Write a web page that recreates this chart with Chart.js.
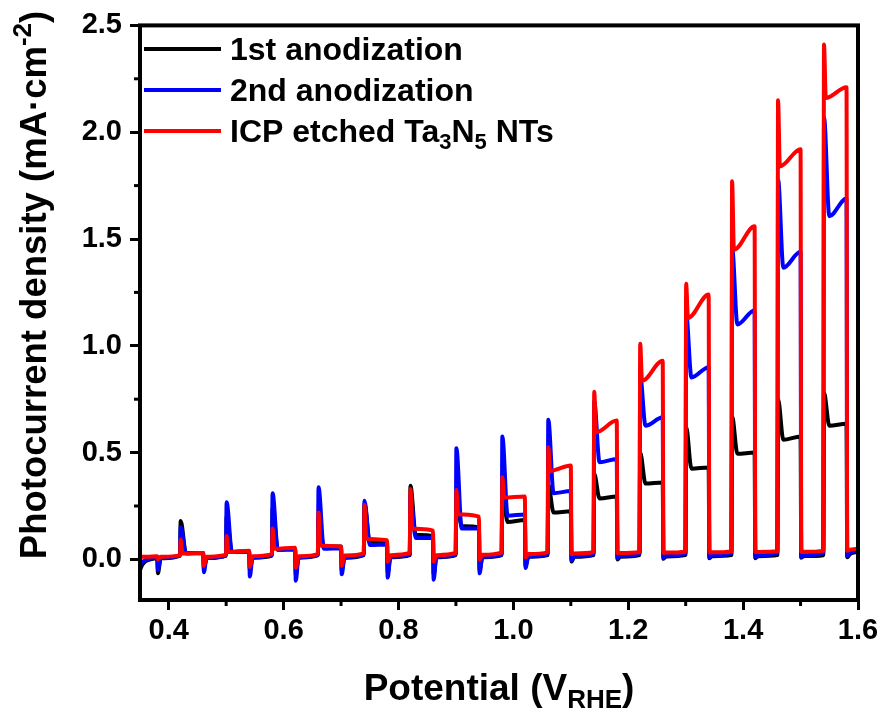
<!DOCTYPE html>
<html><head><meta charset="utf-8">
<script src="https://cdn.jsdelivr.net/npm/chart.js@4"></script>
<style>html,body{margin:0;padding:0;background:#fff}#wrap{width:887px;height:712px}</style>
</head><body><div id="wrap"><canvas id="c" width="887" height="712"></canvas></div>
<script>
// ---------- data ----------
const xTicks = [0.4, 0.6, 0.8, 1.0, 1.2, 1.4, 1.6];
const xMinorTicks = [0.5, 0.7, 0.9, 1.1, 1.3, 1.5];
const yTicks = [0.0, 0.5, 1.0, 1.5, 2.0, 2.5];
const yMinorTicks = [0.25, 0.75, 1.25, 1.75, 2.25];

const seriesNames = ["1st anodization", "2nd anodization", "ICP etched Ta3N5 NTs"];

// light-on and light-off potentials (V vs RHE)
const onV  = [0.42,0.50,0.58,0.66,0.74,0.82,0.90,0.98,1.06,1.14,1.22,1.30,1.38,1.46,1.54];
const offV = [0.38,0.46,0.54,0.62,0.70,0.78,0.86,0.94,1.02,1.10,1.18,1.26,1.34,1.42,1.50,1.58];

// 1st anodization (black)
const blackStart   = [[0.350,-0.05],[0.353,-0.03],[0.357,-0.015],[0.362,-0.005],[0.370,0.002],[0.380,0.005]];
const blackPeak    = [0.18,0.20,0.24,0.20,0.26,0.345,0.30,0.33,0.35,0.40,0.50,0.62,0.67,0.75,0.78];
const blackPlateau = [0.03,0.035,0.045,0.06,0.082,0.115,0.155,0.175,0.22,0.285,0.355,0.425,0.495,0.56,0.626];
const blackEnd     = [0.03,0.036,0.047,0.06,0.08,0.11,0.15,0.185,0.225,0.295,0.36,0.43,0.50,0.575,0.635];
const blackDip     = [-0.065,-0.04,-0.05,-0.07,-0.05,-0.06,-0.07,-0.05,-0.03,-0.01,0.0,0.003,0.005,0.006,0.008,0.01];
const blackDark    = [0.005,0.006,0.008,0.008,0.008,0.01,0.01,0.01,0.012,0.012,0.013,0.014,0.015,0.015,0.016,0.025];
const blackDarkPre = [0.018,0.018,0.018,0.02,0.02,0.02,0.02,0.02,0.02,0.02,0.02,0.02,0.02,0.02,0.02];
const blackFinal   = 0.035;

// 2nd anodization (blue)
const blueStart   = [[0.350,-0.03],[0.353,-0.015],[0.358,-0.005],[0.365,0.002],[0.380,0.008]];
const bluePeak    = [0.15,0.268,0.31,0.338,0.275,0.30,0.52,0.575,0.654,0.74,0.86,1.15,1.46,1.78,2.07];
const bluePlateau = [0.028,0.035,0.045,0.05,0.068,0.10,0.145,0.205,0.31,0.455,0.626,0.852,1.10,1.366,1.607];
const blueEnd     = [0.03,0.038,0.048,0.052,0.07,0.10,0.145,0.21,0.32,0.47,0.665,0.90,1.167,1.44,1.69];
const blueDip     = [-0.05,-0.06,-0.08,-0.10,-0.07,-0.085,-0.095,-0.065,-0.04,-0.005,0.005,0.008,0.01,0.012,0.012,0.015];
const blueDark    = [0.008,0.008,0.01,0.01,0.01,0.012,0.012,0.012,0.014,0.015,0.016,0.017,0.018,0.019,0.02,0.03];
const blueDarkPre = [0.018,0.018,0.02,0.02,0.022,0.022,0.023,0.023,0.024,0.025,0.026,0.027,0.028,0.029,0.03];
const blueFinal   = 0.045;

// ICP etched Ta3N5 NTs (red)
const redStart   = [[0.350,0.012],[0.365,0.013],[0.380,0.015]];
const redPeak    = [0.093,0.11,0.145,0.22,0.255,0.33,0.325,0.385,0.525,0.785,1.01,1.29,1.77,2.15,2.41];
const redPlateau = [0.028,0.035,0.05,0.065,0.097,0.145,0.212,0.29,0.415,0.595,0.836,1.13,1.45,1.84,2.16];
const redEnd     = [0.03,0.04,0.055,0.06,0.09,0.135,0.20,0.295,0.44,0.65,0.93,1.24,1.56,1.92,2.21];
const redDip     = [0.0,-0.03,-0.035,-0.04,-0.03,-0.012,-0.01,0.0,0.01,0.025,0.03,0.03,0.032,0.035,0.035,0.04];
const redDark    = [0.012,0.012,0.015,0.015,0.018,0.02,0.02,0.022,0.025,0.028,0.03,0.032,0.033,0.035,0.036,0.045];
const redDarkPre = [0.02,0.022,0.025,0.025,0.028,0.03,0.03,0.032,0.033,0.035,0.035,0.036,0.037,0.038,0.04];
const redFinal   = 0.05;

// ---------- build point lists ----------
function buildSeries(start, dip, dark, darkPre, peak, plateau, end, finalV, decay) {
  const pts = start.map(p => ({x: p[0], y: p[1]}));
  for (let i = 0; i < offV.length; i++) {
    pts.push({x: offV[i] + 0.0012, y: dip[i]});
    pts.push({x: offV[i] + 0.006, y: dark[i]});
    if (i < onV.length) {
      pts.push({x: onV[i] - 0.0004, y: darkPre[i]});
      pts.push({x: onV[i] + 0.0008, y: peak[i]});
      pts.push({x: onV[i] + decay, y: plateau[i]});
      pts.push({x: offV[i + 1], y: end[i]});
    }
  }
  pts.push({x: 1.60, y: finalV});
  return pts;
}

const FONT = "'Liberation Sans', Arial, Helvetica, sans-serif";
const colors = ['#000000', '#0000ff', '#ff0000'];

const datasets = [
  {label: seriesNames[0], data: buildSeries(blackStart, blackDip, blackDark, blackDarkPre, blackPeak, blackPlateau, blackEnd, blackFinal, 0.010), borderColor: colors[0], order: 3},
  {label: seriesNames[1], data: buildSeries(blueStart, blueDip, blueDark, blueDarkPre, bluePeak, bluePlateau, blueEnd, blueFinal, 0.010), borderColor: colors[1], order: 2},
  {label: seriesNames[2], data: buildSeries(redStart, redDip, redDark, redDarkPre, redPeak, redPlateau, redEnd, redFinal, 0.004), borderColor: colors[2], order: 1}
].map(d => Object.assign(d, {borderWidth: 4, pointRadius: 0, fill: false, cubicInterpolationMode: 'monotone'}));

// rich text helper
function drawRich(ctx, parts, x, y, size, align) {
  const fontFor = s => `bold ${s === 'n' ? size : Math.round(size * 0.7)}px ${FONT}`;
  let total = 0;
  parts.forEach(p => { ctx.font = fontFor(p.s); total += ctx.measureText(p.t).width; });
  let cx = align === 'center' ? x - total / 2 : x;
  ctx.textAlign = 'left';
  ctx.textBaseline = 'alphabetic';
  parts.forEach(p => {
    ctx.font = fontFor(p.s);
    const dy = p.s === 'sub' ? size * 0.22 : (p.s === 'sup' ? -size * 0.42 : 0);
    ctx.fillText(p.t, cx, y + dy);
    cx += ctx.measureText(p.t).width;
  });
}

const decor = {
  id: 'decor',
  afterDraw(chart) {
    const {ctx, chartArea: a, scales} = chart;
    ctx.save();
    ctx.fillStyle = '#000';
    ctx.strokeStyle = '#000';
    // minor ticks
    ctx.lineWidth = 3;
    xMinorTicks.forEach(v => {
      const px = scales.x.getPixelForValue(v);
      ctx.beginPath(); ctx.moveTo(px, a.bottom); ctx.lineTo(px, a.bottom + 6); ctx.stroke();
    });
    yMinorTicks.forEach(v => {
      const py = scales.y.getPixelForValue(v);
      ctx.beginPath(); ctx.moveTo(a.left, py); ctx.lineTo(a.left - 6, py); ctx.stroke();
    });
    // frame
    ctx.lineWidth = 4;
    ctx.strokeRect(a.left, a.top, a.right - a.left, a.bottom - a.top);
    // legend
    const rows = [49, 90, 131];
    const legendParts = [
      [{t: seriesNames[0], s: 'n'}],
      [{t: seriesNames[1], s: 'n'}],
      [{t: 'ICP etched Ta', s: 'n'}, {t: '3', s: 'sub'}, {t: 'N', s: 'n'}, {t: '5', s: 'sub'}, {t: ' NTs', s: 'n'}]
    ];
    rows.forEach((ry, i) => {
      ctx.strokeStyle = colors[i];
      ctx.lineWidth = 4;
      ctx.beginPath(); ctx.moveTo(144, ry); ctx.lineTo(221, ry); ctx.stroke();
      ctx.fillStyle = '#000';
      drawRich(ctx, legendParts[i], 230, ry + 11, 32, 'left');
    });
    // x title
    const xc = (a.left + a.right) / 2;
    drawRich(ctx, [{t: 'Potential (V', s: 'n'}, {t: 'RHE', s: 'sub'}, {t: ')', s: 'n'}], xc, 700, 37, 'center');
    // y title
    ctx.translate(46, 285);
    ctx.rotate(-Math.PI / 2);
    drawRich(ctx, [{t: 'Photocurrent density (mA\u00b7cm', s: 'n'}, {t: '-2', s: 'sup'}, {t: ')', s: 'n'}], 0, 0, 36.5, 'center');
    ctx.restore();
  }
};

new Chart(document.getElementById('c'), {
  type: 'line',
  data: {datasets},
  plugins: [decor],
  options: {
    responsive: false,
    animation: false,
    events: [],
    layout: {padding: {left: 0, right: 29, top: 24, bottom: 0}},
    plugins: {legend: {display: false}, tooltip: {enabled: false}},
    scales: {
      x: {
        type: 'linear', min: 0.35, max: 1.6,
        afterFit: s => { s.height = 112; },
        afterBuildTicks: s => { s.ticks = xTicks.map(v => ({value: v})); },
        grid: {drawOnChartArea: false, drawTicks: true, tickLength: 10, color: '#000', lineWidth: 3},
        border: {display: false},
        ticks: {color: '#000', padding: 4, maxRotation: 0, font: {family: FONT, size: 29, weight: 'bold'}, callback: v => Number(v).toFixed(1)}
      },
      y: {
        type: 'linear', min: -0.19, max: 2.5,
        afterFit: s => { s.width = 140; },
        afterBuildTicks: s => { s.ticks = yTicks.map(v => ({value: v})); },
        grid: {drawOnChartArea: false, drawTicks: true, tickLength: 10, color: '#000', lineWidth: 3},
        border: {display: false},
        ticks: {color: '#000', padding: 8, font: {family: FONT, size: 29, weight: 'bold'}, callback: v => Number(v).toFixed(1)}
      }
    }
  }
});
</script>
</body></html>
